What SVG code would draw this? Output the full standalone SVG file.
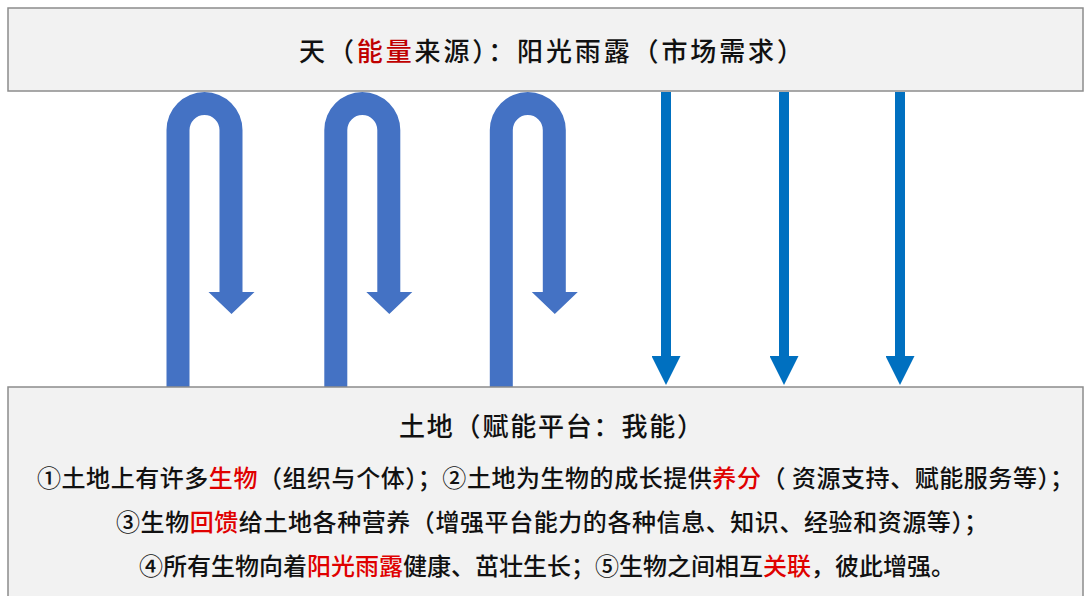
<svg xmlns="http://www.w3.org/2000/svg" width="1089" height="596" viewBox="0 0 1089 596">
<style>
.box{fill:#f2f2f2;stroke:#8c8c8c;stroke-width:1.5}
.t{font-family:"Noto Sans CJK SC","Noto Sans",sans-serif;fill:#111;font-weight:500}
.h{font-size:26px}
.b{font-size:24px}
.r{fill:#c00000}
.r2{fill:#e00000}
.uturn{fill:#4472c4}
.down{stroke:#0070c0;stroke-width:10;fill:none}
</style>
<defs>
<path id="uturn" d="M -38 387 L -38 130 A 38 38 0 0 1 38 130 L 38 292 L 50 292 L 27 314 L 4 292 L 15 292 L 15 130 A 15 15 0 0 0 -15 130 L -15 387 Z"/>
<marker id="head" markerUnits="userSpaceOnUse" markerWidth="29" markerHeight="29" viewBox="0 0 29 29" refX="0" refY="14.5" orient="auto">
<path d="M0 0 L29 14.5 L0 29 Z" fill="#0070c0"/>
</marker>
</defs>
<rect width="1089" height="596" fill="#ffffff"/>
<g id="connectors">
<use href="#uturn" class="uturn" transform="translate(204.5 0)"/>
<use href="#uturn" class="uturn" transform="translate(362.3 0)"/>
<use href="#uturn" class="uturn" transform="translate(527.8 0)"/>
<line class="down" x1="666" y1="92" x2="666" y2="356" marker-end="url(#head)"/>
<line class="down" x1="784" y1="92" x2="784" y2="356" marker-end="url(#head)"/>
<line class="down" x1="900" y1="92" x2="900" y2="356" marker-end="url(#head)"/>
</g>
<g id="sky">
<rect class="box" x="8" y="8" width="1075" height="83"/>
<text class="t h" x="299" y="61" textLength="504">天（<tspan class="r">能量</tspan>来源）：阳光雨露（市场需求）</text>
</g>
<g id="land">
<rect class="box" x="8" y="387" width="1075" height="215"/>
<text class="t h" x="399" y="436" textLength="304">土地（赋能平台：我能）</text>
<text class="t b" x="37" y="487" textLength="1037">①土地上有许多<tspan class="r2">生物</tspan>（组织与个体）；②土地为生物的成长提供<tspan class="r2">养分</tspan>（ 资源支持、赋能服务等）；</text>
<text class="t b" x="116" y="531" textLength="872">③生物<tspan class="r2">回馈</tspan>给土地各种营养（增强平台能力的各种信息、知识、经验和资源等）；</text>
<text class="t b" x="139" y="575" textLength="816">④所有生物向着<tspan class="r2">阳光雨露</tspan>健康、茁壮生长；⑤生物之间相互<tspan class="r2">关联</tspan>，彼此增强。</text>
</g>
</svg>
